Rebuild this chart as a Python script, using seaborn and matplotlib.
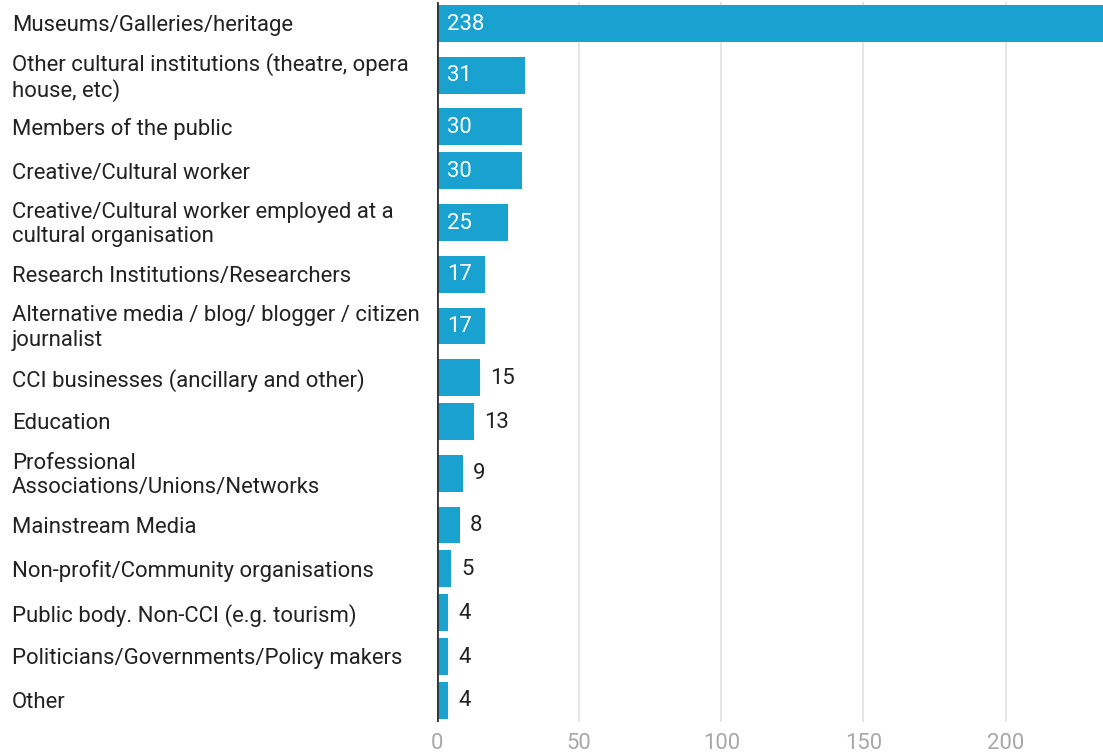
import numpy as np
import pandas as pd
import matplotlib
matplotlib.use("Agg")
import matplotlib.pyplot as plt
import seaborn as sns

categories = [
    "Museums/Galleries/heritage",
    "Other cultural institutions (theatre, opera\nhouse, etc)",
    "Members of the public",
    "Creative/Cultural worker",
    "Creative/Cultural worker employed at a\ncultural organisation",
    "Research Institutions/Researchers",
    "Alternative media / blog/ blogger / citizen\njournalist",
    "CCI businesses (ancillary and other)",
    "Education",
    "Professional\nAssociations/Unions/Networks",
    "Mainstream Media",
    "Non-profit/Community organisations",
    "Public body. Non-CCI (e.g. tourism)",
    "Politicians/Governments/Policy makers",
    "Other",
]
counts = [238, 31, 30, 30, 25, 17, 17, 15, 13, 9, 8, 5, 4, 4, 4]
x_ticks = [0, 50, 100, 150, 200]

BAR = "#19a2d0"
TEXT = "#222222"
FS = 15.9

sns.set_theme(style="white")
plt.rcParams["font.family"] = ["Roboto", "DejaVu Sans"]

# row heights grow with the number of label lines
row_h = np.array([44 if "\n" not in c else 60 for c in categories], dtype=float)
pos = np.cumsum(row_h) - row_h / 2
total = row_h.sum()

df = pd.DataFrame({"label": categories, "count": counts, "pos": pos})

fig = plt.figure(figsize=(11.03, 7.55), dpi=100)
ax = fig.add_axes([437 / 1103, 33 / 755, 1 - 437 / 1103, (722 - 1.5) / 755])

for t in x_ticks[1:]:
    ax.axvline(t, color="#e3e3e3", lw=1.3, zorder=0)

sns.barplot(data=df, x="count", y="pos", orient="y", native_scale=True,
            width=37 / 44, color=BAR, saturation=1, edgecolor="none",
            ax=ax, zorder=2)

ax.axvline(0, color="#333333", lw=2, zorder=3)

ax.set_xlim(0, 234.3)
ax.set_ylim(total, 0)

ax.set_yticks(pos)
ax.set_yticklabels(categories, ha="left", multialignment="left",
                   fontsize=FS, color=TEXT, linespacing=1.2)
ax.tick_params(axis="y", length=0, pad=306)
# two-line labels sit a touch higher in their rows
for lbl in ax.get_yticklabels():
    if "\n" in lbl.get_text():
        lbl.set_y(lbl.get_position()[1])
        lbl.set_transform(lbl.get_transform() +
                          matplotlib.transforms.ScaledTranslation(0, 2 / 100, fig.dpi_scale_trans))

ax.set_xticks(x_ticks)
ax.set_xticklabels([str(t) for t in x_ticks], fontsize=FS, color="#a8a8a8")
ax.tick_params(axis="x", length=0, pad=8)

ax.set_xlabel("")
ax.set_ylabel("")
for s in ax.spines.values():
    s.set_visible(False)
ax.grid(False)

for v, p in zip(counts, pos):
    if v >= 17:
        ax.annotate(str(v), xy=(0, p), xytext=(7.2, -0.5), textcoords="offset points",
                    ha="left", va="center", fontsize=FS, color="white", zorder=4)
    else:
        ax.annotate(str(v), xy=(v, p), xytext=(7.2, -0.5), textcoords="offset points",
                    ha="left", va="center", fontsize=FS, color=TEXT, zorder=4)

fig.savefig("out.png", dpi=100)
